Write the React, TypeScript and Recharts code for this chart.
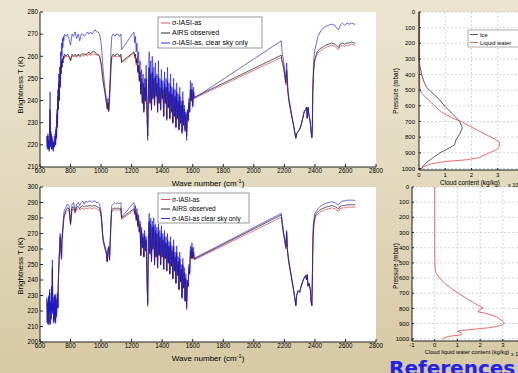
import React from 'react';
import { LineChart, Line, XAxis, YAxis, CartesianGrid } from 'recharts';

const FONT = '"Liberation Sans", Arial, sans-serif';

// ---------- wavenumber grids (cm-1) ----------
const WN_A = [645,648,651,654,657,660,663,666,669,672,675,678,681,684,687,690,693,696,699,702,705,708,711,714,717,720,723,726,729,732,735,738,741,744,747,750,753,756,760];
const WN_B = [770,780,790,800,810,820,830,840,850,860,870,880,890,900,910,920,930,940,950,960,970,980,990,1000];
const WN_C = [1005,1010,1015,1020,1025,1030,1035,1040,1045,1050,1055,1060,1065,1070,1080,1090,1100,1110,1120,1130,1134];
const WN_D = [1215,1220,1225,1230,1235,1240,1245,1250,1255,1260,1265,1270,1275,1280,1285,1290,1295,1300,1305,1310,1315,1320,1325,1330,1335,1340,1345,1350,1355,1360,1365,1370,1375,1380,1385,1390,1395,1400,1405,1410,1415,1420,1425,1430,1435,1440,1445,1450,1455,1460,1465,1470,1475,1480,1485,1490,1495,1500,1505,1510,1515,1520,1525,1530,1535,1540,1545,1550,1555,1560,1565,1570,1575,1580,1585,1590,1595,1600,1605,1610];
const WN_E = [2180,2185,2190,2195,2200,2205,2210,2215,2220,2225,2230,2240,2250,2260,2270,2275,2280,2290,2300,2310,2320,2330,2340,2345,2350,2355,2360,2365,2370,2375,2380,2383,2386,2389,2392,2396,2400,2410,2420,2435,2450,2470,2490,2510,2530,2545,2555,2565,2580,2595,2610,2625,2640,2655,2665];

// ---------- top spectrum: brightness temperature (K) ----------
const TOP_BLUE_A = [224,218,225,219,222,217,230,244,219,226,218,224,218,221,217,222,219,221,225,220,228,223,236,228,245,238,252,242,255,248,262,255,266,260,268,264,269,267,270];
const TOP_BLACK_A = [224,219,224,218,222,218,228,236,220,225,218,223,219,221,218,221,219,221,224,220,227,223,234,228,242,236,248,240,252,246,256,252,258,255,259,257,260,259,261];
const TOP_RED_A = [223,219,224,219,221,218,227,234,220,224,219,223,219,220,218,221,219,220,224,220,226,223,233,228,241,236,247,240,251,246,255,252,257,255,258,257,259,259,260];

const TOP_BLUE_B = [269,270,268,265,270,269,271,268,270,267,270,270,269,270,271,270,271,270,271,272,271,271,270,266];
const TOP_BLACK_B = [260,261,260,258,261,260,261,260,261,260,261,261,261,261,261,262,261,262,262,262,261,261,260,257];
const TOP_RED_B = [259.5,260,260,258,260,260,260,259.5,260.5,260,260,260.5,260,261,260,261,260.5,261,261,261,260.5,260.5,260,256.5];

const TOP_BLUE_C = [262,257,253,249,246,243,241,239,241,236,244,252,263,269,270,269,270,270,269,270,263];
const TOP_BLACK_C = [254,251,248,246,244,241,239,236,239,235,240,248,256,260,261,260,261,261,260,261,257.5];
const TOP_RED_C = [253.5,250.5,248,245.5,243.5,241,239,236.5,239,235.5,240,247.5,255,259.5,260,260,260,260,260,260,257];

const TOP_BLUE_D = [
  271,266,269,262,266,257,262,252,258,245,
  254,240,252,236,250,241,256,238,222,248,
  262,240,258,236,260,242,255,238,257,244,
  252,235,258,240,250,236,254,243,249,233,
  253,240,250,231,255,238,248,232,252,236,
  246,230,250,234,245,228,248,233,243,227,
  246,231,240,225,244,229,238,226,235,222,
  236,231,241,235,249,240,248,237,246,241,
];
const TOP_BLACK_D = [
  262,260,261,257,259,253,256,249,253,243,
  250,239,248,235,246,240,250,237,224,245,
  255,239,252,236,253,241,250,238,251,242,
  248,235,251,239,246,236,249,241,245,233,
  248,239,246,232,249,237,244,232,247,235,
  243,230,245,233,242,228,244,232,240,227,
  242,230,238,226,240,229,236,227,234,224,
  235,231,239,235,245,240,245,238,244,241.5,
];
const TOP_RED_D = [
  261.5,259,260.5,256,258.5,252.5,255.5,248.5,252.5,242.5,
  249.5,238.5,247.5,234.5,245.5,239.5,249.5,236.5,224,244.5,
  254.5,238.5,251.5,235.5,252.5,240.5,249.5,237.5,250.5,241.5,
  247.5,234.5,250.5,238.5,245.5,235.5,248.5,240.5,244.5,232.5,
  247.5,238.5,245.5,231.5,248.5,236.5,243.5,231.5,246.5,234.5,
  242.5,229.5,244.5,232.5,241.5,227.5,243.5,231.5,239.5,226.5,
  241.5,229.5,237.5,225.5,239.5,228.5,235.5,226.5,233.5,223.5,
  234.5,230.5,238.5,234.5,244.5,239.5,244.5,237.5,243.5,241,
];

const TOP_BLUE_E = [
  267,262,260,258,255,252,250,257,249,244,241,
  237,233,229,225,223,225,226,227,229,232,235,236,
  237,232,237,234,232,230,226,223,228,245,252,258,261,263,
  266,269,271,272.5,273.5,274,274.5,274,272.5,272,274,275,274,275,274.5,275,274.5,274.5,
];
const TOP_BLACK_E = [
  260.5,258,257,255,253,250,248,254,247,243,240,
  236,232.5,229,225,223,225,226,227,229,232,235,236,
  237,232,237,234,232,230,226,223.5,228,244,250,254,257,259,
  261,262.5,263.5,264,265,265.5,266,265.5,264.5,264,265.5,266,265.5,266,266,266.5,266,266,
];
const TOP_RED_E = [
  259.5,257,256,254,252,249,247,253,246,242,239.5,
  235.5,232,228.5,225,223,225,226,227,229,232,234.5,236,
  237,232,236.5,234,232,230,226,223.5,228,243,249,253,256,258,
  260,261.5,262.5,263,264,264.5,265,264.5,263.5,263,264.5,265,264.5,265,265,265.5,265,265,
];

// ---------- bottom spectrum ----------
const BOT_BLUE_A = [229,212,226,211,230,218,234,211,226,214,236,220,253,218,226,212,230,214,231,212,228,216,224,232,222,240,248,256,262,270,265,258,254,268,271,276,279,283,285];
const BOT_BLACK_A = [228,213,225,212,229,219,232,212,225,215,234,220,248,219,225,213,229,215,230,213,227,217,224,231,222,239,247,255,261,268,264,258,254,266,269,273,276,280,282];
const BOT_RED_A = [227,213,225,212,228,219,231,212,224,215,233,220,246,219,225,213,228,215,229,213,227,217,223,230,222,238,246,254,260,267,263,257,253,265,268,272,275,279,281];

const BOT_BLUE_B = [287,289,288,277,289,290,285,289,290,288,290,291,289,291,290,291,291,290,291,291,290,290,289,284];
const BOT_BLACK_B = [285,286.5,286,276,287,287,284,287,287.5,286,287.5,288,287,288,287.5,288,288,287.5,288,288,287.5,287,286.5,282];
const BOT_RED_B = [284,285,285,275.5,285.5,285.5,283,285.5,286,285,286,286.5,285.5,286.5,286,286.5,286.5,286,286.5,286.5,286,285.5,285,281];

const BOT_BLUE_C = [278,270,266,264,262,260,258,252,260,262,253,266,280,288,289,290,289,290,289,290,280.5];
const BOT_BLACK_C = [276,269,265,263,261,259,257,252,259,261,253,265,278,285.5,286,286.5,286,286.5,286,286.5,280];
const BOT_RED_C = [275,268,264,262,260,258,256.5,251.5,258.5,260.5,252.5,264,277,284.5,285,285.5,285,285.5,285,285.5,279];

const BOT_BLUE_D = [
  290,285,288,280,286,276,282,272,278,256,
  274,262,270,255,272,260,268,245,223,270,
  283,258,280,252,278,262,280,250,276,256,
  274,248,276,258,272,250,275,256,270,247,
  272,255,268,246,270,252,265,244,268,250,
  262,241,266,247,258,238,262,244,255,234,
  258,240,250,228,254,236,248,226,244,221,
  240,236,250,245,262,256,264,255,261,254,
];
const BOT_BLACK_D = [
  286,283,285,279,283,275,280,271,276,256,
  272,261,268,255,269,259,266,245,225,267,
  278,257,276,252,274,260,275,250,272,255,
  270,248,272,256,268,250,270,255,266,247,
  268,254,264,246,266,251,262,244,264,249,
  259,241,262,246,255,238,258,243,252,234,
  254,239,247,229,250,235,245,227,241,223,
  239,236,248,244,259,254,261,254,258,253.5,
];
const BOT_RED_D = [
  285,282,284,278,282,274,279,270.5,275,255.5,
  271,260.5,267,254.5,268,258.5,265,244.5,225,266,
  277,256.5,275,251.5,273,259.5,274,249.5,271,254.5,
  269,247.5,271,255.5,267,249.5,269,254.5,265,246.5,
  267,253.5,263,245.5,265,250.5,261,243.5,263,248.5,
  258,240.5,261,245.5,254,237.5,257,242.5,251,233.5,
  253,238.5,246,228.5,249,234.5,244,226.5,240,222.5,
  238.5,235.5,247,243.5,258,253.5,260,253.5,257,253,
];

const BOT_BLUE_E = [
  283,278,274.5,271,268,265,262,272,260,256,252,
  246,240,234,227,223.5,230,233,232,236,239,241.5,243,
  240,243.5,236,238,236,234,226,223.5,240,262,275,278,281,283,
  284.5,286,287.5,288.5,289.5,290,290.5,290,289,288.5,290,291,291,291.5,291.5,291.5,291.5,291,
];
const BOT_BLACK_E = [
  282,277,273.5,270,267,264,261,271,259,255,251,
  245.5,239.5,234,227,223.5,230,233,232,236,239,241.5,243,
  240,243.5,236,238,236,234,226,223.5,239,259,271,275,278,280.5,
  283,284,285.5,286,287,287.5,288,287.5,286.5,286,287.5,288,288,288.5,288.5,288.5,288.5,288.5,
];
const BOT_RED_E = [
  280.5,276,272.5,269,266,263,260,270,258,254,250,
  245,239,233.5,227,223.5,230,233,232,236,239,241,242.5,
  240,243,236,238,236,234,226,223.5,238,257,269,273,276.5,279.5,
  281.5,282.5,284,284.5,285.5,286,286.5,286,285,284.5,286,286.5,286.5,287,287,287,287,287,
];

// ---------- cloud profiles ----------
const ICE_P = [0,100,200,300,350,400,450,480,500,560,600,650,700,740,780,820,850,880,900,930,960,990,1005];
const ICE_V = [0,0,0,0,0.04,0.1,0.2,0.28,0.4,0.78,0.97,1.27,1.55,1.65,1.55,1.4,1.35,1.04,0.8,0.55,0.3,0.13,0.1];
const LIQ_P = [0,100,200,300,400,480,500,520,550,600,640,680,700,740,780,810,830,860,880,900,930,945,955,970,990,1010];
const LIQ_V = [0.02,0.02,0.02,0.02,0.02,0.03,0.05,0.1,0.28,0.6,0.85,1.3,1.6,2.05,2.5,2.87,3.06,3.06,2.94,2.68,2.3,1.8,1.04,0.47,0.15,0.03];
const LIQ2_P = [0,100,200,300,400,500,548,570,600,636,670,700,735,768,797,812,823,834,856,879,896,912,927,940,949,962,975,985,995,1008];
const LIQ2_V = [0,0,0,0,0,0.01,0.02,0.07,0.22,0.44,0.74,1.03,1.4,1.77,2.14,1.95,1.92,2.29,2.73,2.95,3.07,2.95,2.44,1.55,1.0,1.18,1.15,0.6,0.4,0.35];

// ---------- ticks ----------
const X_TICKS = [600,800,1000,1200,1400,1600,1800,2000,2200,2400,2600,2800];
const Y_TICKS_TOP = [210,220,230,240,250,260,270,280];
const Y_TICKS_BOT = [200,210,220,230,240,250,260,270,280,290,300];
const P_TICKS = [0,100,200,300,400,500,600,700,800,900,1000];
const C_TICKS_TOP = [0,1,2,3,4];
const C_TICKS_BOT = [-1,0,1,2,3,4];

const BLUE = '#1a1ae8';
const BLACK = '#151515';
const RED = '#e03c3c';

const zip = (w: number[], t: number[]) =>
  w.slice(0, Math.min(w.length, t.length)).map((x, i) => ({ wn: x, t: t[i] }));
const join = (pairs: [number[], number[]][]) => pairs.flatMap(([w, t]) => zip(w, t));
const prof = (p: number[], v: number[]) =>
  p.slice(0, Math.min(p.length, v.length)).map((x, i) => ({ p: x, v: v[i] }));

const topBlue = join([[WN_A, TOP_BLUE_A], [WN_B, TOP_BLUE_B], [WN_C, TOP_BLUE_C], [WN_D, TOP_BLUE_D], [WN_E, TOP_BLUE_E]]);
const topBlack = join([[WN_A, TOP_BLACK_A], [WN_B, TOP_BLACK_B], [WN_C, TOP_BLACK_C], [WN_D, TOP_BLACK_D], [WN_E, TOP_BLACK_E]]);
const topRed = join([[WN_A, TOP_RED_A], [WN_B, TOP_RED_B], [WN_C, TOP_RED_C], [WN_D, TOP_RED_D], [WN_E, TOP_RED_E]]);
const botBlue = join([[WN_A, BOT_BLUE_A], [WN_B, BOT_BLUE_B], [WN_C, BOT_BLUE_C], [WN_D, BOT_BLUE_D], [WN_E, BOT_BLUE_E]]);
const botBlack = join([[WN_A, BOT_BLACK_A], [WN_B, BOT_BLACK_B], [WN_C, BOT_BLACK_C], [WN_D, BOT_BLACK_D], [WN_E, BOT_BLACK_E]]);
const botRed = join([[WN_A, BOT_RED_A], [WN_B, BOT_RED_B], [WN_C, BOT_RED_C], [WN_D, BOT_RED_D], [WN_E, BOT_RED_E]]);

const iceData = prof(ICE_P, ICE_V);
const liqData = prof(LIQ_P, LIQ_V);
const liq2Data = prof(LIQ2_P, LIQ2_V);

const tickStyle = (fs: number) => ({ fontSize: fs, fill: '#000', fontFamily: FONT });
const AX = '#222';

function Spectrum(props: {
  top: number; mt: number; yDomain: number[]; yTicks: number[];
  red: any[]; black: any[]; blue: any[];
}) {
  const { top, mt, yDomain, yTicks, red, black, blue } = props;
  return (
    <div style={{ position: 'absolute', left: 0, top, width: 390, height: 190 }}>
      <LineChart width={390} height={190} margin={{ top: mt, right: 14, bottom: 0, left: 0 }}>
        <CartesianGrid horizontal={false} vertical={false} fill="#ffffff" />
        <XAxis dataKey="wn" type="number" domain={[600, 2800]} ticks={X_TICKS} interval={0}
          height={23 + (12 - mt)} tickSize={-3} tickMargin={5} tick={tickStyle(6.3)}
          axisLine={{ stroke: AX }} tickLine={{ stroke: AX }} />
        <XAxis xAxisId="top" orientation="top" type="number" domain={[600, 2800]} ticks={X_TICKS}
          interval={0} height={0} tick={false} tickSize={-3} axisLine={{ stroke: AX }} tickLine={{ stroke: AX }} />
        <YAxis type="number" domain={yDomain} ticks={yTicks} interval={0} width={40}
          tickSize={-3} tickMargin={5} tick={tickStyle(6.3)} axisLine={{ stroke: AX }} tickLine={{ stroke: AX }} />
        <YAxis yAxisId="r" orientation="right" type="number" domain={yDomain} ticks={yTicks}
          interval={0} width={0} tick={false} tickSize={-3} axisLine={{ stroke: AX }} tickLine={{ stroke: AX }} />
        <Line data={red} dataKey="t" stroke={RED} strokeWidth={0.7} dot={false} isAnimationActive={false} />
        <Line data={black} dataKey="t" stroke={BLACK} strokeWidth={0.7} dot={false} isAnimationActive={false} />
        <Line data={blue} dataKey="t" stroke={BLUE} strokeWidth={0.65} dot={false} isAnimationActive={false} />
      </LineChart>
    </div>
  );
}

export default function App() {
  return (
    <div style={{
      position: 'fixed', left: 0, top: 0, width: 518, height: 373, overflow: 'hidden',
      background: 'linear-gradient(180deg, #ebe5d0 0%, #e1d8bb 55%, #d6c9a4 100%)',
      fontFamily: FONT,
    }}>
      <Spectrum top={0} mt={12} yDomain={[210, 280]} yTicks={Y_TICKS_TOP} red={topRed} black={topBlack} blue={topBlue} />
      <Spectrum top={176} mt={11} yDomain={[200, 300]} yTicks={Y_TICKS_BOT} red={botRed} black={botBlack} blue={botBlue} />

      {/* top-right profile */}
      <div style={{ position: 'absolute', left: 380, top: 0, width: 150, height: 190 }}>
        <LineChart layout="vertical" width={150} height={190} margin={{ top: 12, right: 6, bottom: 0, left: 0 }}>
          <CartesianGrid strokeDasharray="2 2" stroke="#b8b8b8" strokeWidth={0.6} fill="#ffffff" />
          <XAxis type="number" domain={[0, 4]} ticks={C_TICKS_TOP} interval={0} height={20}
            tickSize={-2} tickMargin={5} tick={tickStyle(6)} axisLine={{ stroke: AX }} tickLine={{ stroke: AX }} />
          <XAxis xAxisId="top" orientation="top" type="number" domain={[0, 4]} ticks={C_TICKS_TOP}
            interval={0} height={0} tick={false} tickSize={-2} axisLine={{ stroke: AX }} tickLine={{ stroke: AX }} />
          <YAxis type="number" dataKey="p" domain={[0, 1010]} ticks={P_TICKS} interval={0} width={39}
            tickSize={-2} tickMargin={6} tick={tickStyle(6)} axisLine={{ stroke: AX }} tickLine={{ stroke: AX }} />
          <Line data={iceData} dataKey="v" stroke="#333333" strokeWidth={0.8} dot={false} isAnimationActive={false} />
          <Line data={liqData} dataKey="v" stroke="#e04848" strokeWidth={0.8} dot={false} isAnimationActive={false} />
        </LineChart>
      </div>

      {/* bottom-right profile */}
      <div style={{ position: 'absolute', left: 380, top: 180, width: 152, height: 193 }}>
        <LineChart layout="vertical" width={152} height={193} margin={{ top: 7, right: 6.5, bottom: 0, left: 0 }}>
          <CartesianGrid strokeDasharray="2 2" stroke="#b8b8b8" strokeWidth={0.6} fill="#ffffff" />
          <XAxis type="number" domain={[-1, 4]} ticks={C_TICKS_BOT} interval={0} height={32}
            tickSize={-2} tickMargin={4} tick={tickStyle(6)} axisLine={{ stroke: AX }} tickLine={{ stroke: AX }} />
          <XAxis xAxisId="top" orientation="top" type="number" domain={[-1, 4]} ticks={C_TICKS_BOT}
            interval={0} height={0} tick={false} tickSize={-2} axisLine={{ stroke: AX }} tickLine={{ stroke: AX }} />
          <YAxis type="number" dataKey="p" domain={[0, 1015]} ticks={P_TICKS} interval={0} width={32}
            tickSize={-2} tickMargin={5} tick={tickStyle(6)} axisLine={{ stroke: AX }} tickLine={{ stroke: AX }} />
          <Line data={liq2Data} dataKey="v" stroke="#e04848" strokeWidth={0.8} dot={false} isAnimationActive={false} />
        </LineChart>
      </div>

      {/* overlay texts and legends */}
      <svg width={518} height={373} style={{ position: 'absolute', left: 0, top: 0, pointerEvents: 'none' }}
        fontFamily={FONT}>
        <text x={20} y={85} fontSize={8} textAnchor="middle" dominantBaseline="central" transform="rotate(-90 20 85)">Brightness T (K)</text>
        <text x={20} y={266} fontSize={8} textAnchor="middle" dominantBaseline="central" transform="rotate(-90 20 266)">Brightness T (K)</text>
        <text x={208} y={186} fontSize={8} textAnchor="middle">Wave number (cm<tspan dy={-3} fontSize={5.5}>-1</tspan><tspan dy={3}>)</tspan></text>
        <text x={208} y={361} fontSize={8} textAnchor="middle">Wave number (cm<tspan dy={-3} fontSize={5.5}>-1</tspan><tspan dy={3}>)</tspan></text>

        <text x={395} y={91} fontSize={6.3} textAnchor="middle" dominantBaseline="central" transform="rotate(-90 395 91)">Pressure (mbar)</text>
        <text x={395} y={266} fontSize={6.3} textAnchor="middle" dominantBaseline="central" transform="rotate(-90 395 266)">Pressure (mbar)</text>
        <text x={470} y={185} fontSize={6.3} textAnchor="middle">Cloud content (kg/kg)</text>
        <text x={508} y={187} fontSize={5.5}>x 10<tspan dy={-2.5} fontSize={4.5}>-4</tspan></text>
        <text x={467} y={354} fontSize={5.7} textAnchor="middle">Cloud liquid water content (kg/kg)</text>
        <text x={511} y={356} fontSize={5.5}>x 10<tspan dy={-2.5} fontSize={4.5}>-4</tspan></text>

        {/* top legend */}
        <rect x={158} y={17} width={104} height={31} fill="#fff" stroke="#555" strokeWidth={0.6} />
        <line x1={161} x2={170} y1={23} y2={23} stroke={RED} strokeWidth={0.9} />
        <text x={172} y={25.3} fontSize={7}>σ-IASI-as</text>
        <line x1={161} x2={170} y1={33} y2={33} stroke={BLACK} strokeWidth={0.9} />
        <text x={172} y={35.3} fontSize={7}>AIRS observed</text>
        <line x1={161} x2={170} y1={43} y2={43} stroke={BLUE} strokeWidth={0.9} />
        <text x={172} y={45.3} fontSize={7}>σ-IASI-as, clear sky only</text>

        {/* bottom legend */}
        <rect x={158} y={193} width={91} height={30} fill="#fff" stroke="#555" strokeWidth={0.6} />
        <line x1={161} x2={170} y1={199.5} y2={199.5} stroke={RED} strokeWidth={0.9} />
        <text x={172} y={201.8} fontSize={6.5}>σ-IASI-as</text>
        <line x1={161} x2={170} y1={209} y2={209} stroke={BLACK} strokeWidth={0.9} />
        <text x={172} y={211.3} fontSize={6.5}>AIRS observed</text>
        <line x1={161} x2={170} y1={218.5} y2={218.5} stroke={BLUE} strokeWidth={0.9} />
        <text x={172} y={220.8} fontSize={6.5}>σ-IASI-as clear sky only</text>

        {/* profile legend */}
        <rect x={468} y={30} width={56} height={17} fill="#fff" stroke="#777" strokeWidth={0.6} />
        <line x1={470} x2={478} y1={34.5} y2={34.5} stroke="#333" strokeWidth={0.8} />
        <text x={480} y={36.5} fontSize={5.8}>Ice</text>
        <line x1={470} x2={478} y1={42.5} y2={42.5} stroke="#e04848" strokeWidth={0.8} />
        <text x={480} y={44.5} fontSize={5.8}>Liquid water</text>

        <text x={389} y={375} fontSize={20} fontWeight="bold" fill="#2222ee" fontFamily='"DejaVu Sans", sans-serif'>References</text>
      </svg>
    </div>
  );
}
